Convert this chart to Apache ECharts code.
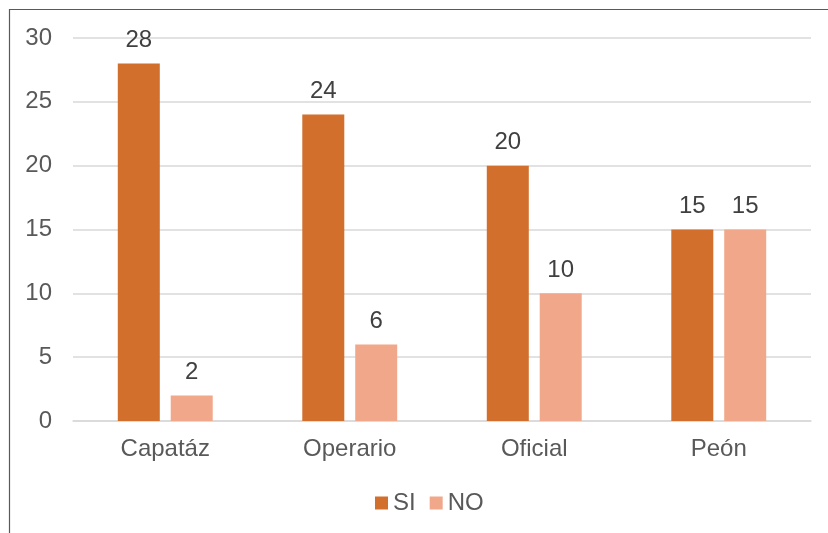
<!DOCTYPE html>
<html>
<head>
<meta charset="utf-8">
<script src="https://cdn.jsdelivr.net/npm/echarts@6/dist/echarts.min.js"></script>
<style>
  html, body { margin: 0; padding: 0; background: #fff; }
  #chart { width: 828px; height: 533px; }
</style>
</head>
<body>
<div id="chart"></div>
<script>
// Puestos de trabajo y respuestas SI / NO
const categories = ['Capatáz', 'Operario', 'Oficial', 'Peón'];
const siValues = [28, 24, 20, 15];
const noValues = [2, 6, 10, 15];
const seriesNames = ['SI', 'NO'];

const FONT = '"Liberation Sans", Arial, sans-serif';
const chart = echarts.init(document.getElementById('chart'), null, { renderer: 'canvas' });

const labelStyle = {
  show: true,
  position: 'top',
  distance: 11,
  color: '#404040',
  fontSize: 24,
  fontFamily: FONT
};

chart.setOption({
  animation: false,
  backgroundColor: '#ffffff',
  graphic: [{
    type: 'rect',
    shape: { x: 9.5, y: 9.5, width: 840, height: 560 },
    style: { fill: 'none', stroke: '#595959', lineWidth: 1.2 },
    silent: true
  }],
  grid: { left: 73, right: 17, top: 38, bottom: 112, containLabel: false },
  legend: {
    data: seriesNames,
    bottom: 13,
    left: 370,
    itemWidth: 13,
    itemHeight: 13,
    itemGap: 14,
    icon: 'rect',
    textStyle: { color: '#595959', fontSize: 24, fontFamily: FONT, padding: [0, 0, 0, 0] }
  },
  xAxis: {
    type: 'category',
    data: categories,
    axisTick: { show: false },
    axisLine: { lineStyle: { color: '#d9d9d9', width: 1.5 } },
    axisLabel: { color: '#595959', fontSize: 24, fontFamily: FONT, margin: 16 }
  },
  yAxis: {
    type: 'value',
    min: 0,
    max: 30,
    interval: 5,
    axisLine: { show: false },
    axisTick: { show: false },
    splitLine: { lineStyle: { color: '#d9d9d9', width: 1.5 } },
    axisLabel: { color: '#595959', fontSize: 24, fontFamily: FONT, margin: 21 }
  },
  series: [
    {
      name: seriesNames[0],
      type: 'bar',
      data: siValues,
      barWidth: 42,
      barGap: '26%',
      itemStyle: { color: '#D26F2C' },
      label: labelStyle
    },
    {
      name: seriesNames[1],
      type: 'bar',
      data: noValues,
      barWidth: 42,
      itemStyle: { color: '#F1A88A' },
      label: labelStyle
    }
  ]
});
</script>
</body>
</html>
